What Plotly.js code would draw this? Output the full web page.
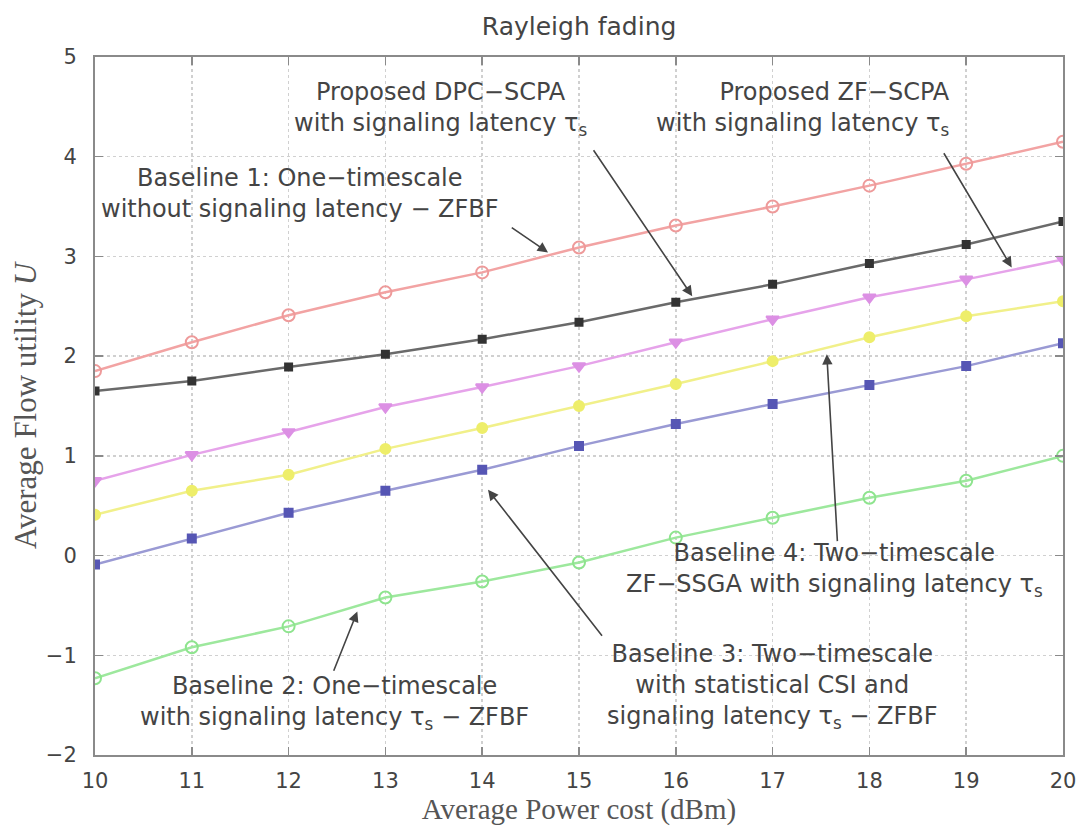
<!DOCTYPE html>
<html>
<head>
<meta charset="utf-8">
<script src="https://cdn.plot.ly/plotly-3.0.1.min.js"></script>
<style>html,body{margin:0;padding:0;background:#fff;}#chart{width:1080px;height:828px;}</style>
</head>
<body>
<div id="chart"></div>
<script>
// Average power cost (dBm)
const powerCost = [10, 11, 12, 13, 14, 15, 16, 17, 18, 19, 20];
// Average flow utility U for each scheme
const baseline1 = [1.85, 2.14, 2.41, 2.64, 2.84, 3.09, 3.31, 3.50, 3.71, 3.93, 4.15];
const proposedDPC = [1.65, 1.75, 1.89, 2.02, 2.17, 2.34, 2.54, 2.72, 2.93, 3.12, 3.35];
const proposedZF = [0.75, 1.01, 1.24, 1.49, 1.69, 1.90, 2.14, 2.37, 2.59, 2.77, 2.97];
const baseline4 = [0.41, 0.65, 0.81, 1.07, 1.28, 1.50, 1.72, 1.95, 2.19, 2.40, 2.55];
const baseline3 = [-0.09, 0.17, 0.43, 0.65, 0.86, 1.10, 1.32, 1.52, 1.71, 1.90, 2.13];
const baseline2 = [-1.23, -0.92, -0.71, -0.42, -0.26, -0.07, 0.18, 0.38, 0.58, 0.75, 1.00];

const xTicks = [10, 11, 12, 13, 14, 15, 16, 17, 18, 19, 20];
const yTicks = [-2, -1, 0, 1, 2, 3, 4, 5];
const yTickText = ['\u22122', '\u22121', '0', '1', '2', '3', '4', '5'];

// label texts, label centres and arrow (tail -> head) in data units
const labels = [
  {text: 'Proposed DPC\u2212SCPA<br>with signaling latency \u03c4<sub>s</sub>', x: 13.57, y: 4.48, anchor: 'center',
   tail: [15.14, 4.08], head: [16.17, 2.60]},
  {text: 'Proposed ZF\u2212SCPA<br>with signaling latency \u03c4<sub>s</sub>', x: 18.85, y: 4.48, anchor: 'right',
   tail: [18.76, 4.05], head: [19.47, 2.89]},
  {text: 'Baseline 1: One\u2212timescale<br>without signaling latency \u2212 ZFBF', x: 12.12, y: 3.63, anchor: 'center',
   tail: [14.29, 3.30], head: [14.68, 3.04]},
  {text: 'Baseline 2: One\u2212timescale<br>with signaling latency \u03c4<sub>s</sub> \u2212 ZFBF', x: 12.47, y: -1.48, anchor: 'center',
   tail: [12.46, -1.17], head: [12.71, -0.56]},
  {text: 'Baseline 3: Two\u2212timescale<br>with statistical CSI and<br>signaling latency \u03c4<sub>s</sub> \u2212 ZFBF', x: 17.00, y: -1.31, anchor: 'center',
   tail: [15.25, -0.82], head: [14.06, 0.66]},
  {text: 'Baseline 4: Two\u2212timescale<br>ZF\u2212SSGA with signaling latency \u03c4<sub>s</sub>', x: 17.64, y: -0.14, anchor: 'center',
   tail: [17.67, 0.13], head: [17.56, 2.02]}
];

function series(y, lineColor, markerSymbol, markerColor, markerSize, name) {
  return {
    x: powerCost, y: y, type: 'scatter', mode: 'lines+markers', name: name,
    line: {color: lineColor, width: 2.5},
    marker: {symbol: markerSymbol, size: markerSize, color: markerColor,
             line: {color: markerColor, width: 2}}
  };
}

const data = [
  series(baseline1, '#f2a3a3', 'circle-open', '#ee9a9a', 12, 'Baseline 1'),
  series(proposedDPC, '#6a6a6a', 'square', '#333333', 7, 'Proposed DPC-SCPA'),
  series(proposedZF, '#e6a3ea', 'triangle-down', '#dc90e4', 11, 'Proposed ZF-SCPA'),
  series(baseline4, '#f1f08a', 'circle', '#eeee6a', 10, 'Baseline 4'),
  series(baseline3, '#9a9ad4', 'square', '#5656b4', 8, 'Baseline 3'),
  series(baseline2, '#9de89d', 'circle-open', '#8ee48e', 12, 'Baseline 2')
];

const textFont = {family: 'DejaVu Sans, sans-serif', size: 24, color: '#444'};
const annotations = [];
labels.forEach(l => {
  annotations.push({
    x: l.x, y: l.y, xref: 'x', yref: 'y', text: l.text, showarrow: false,
    xanchor: l.anchor, yanchor: 'middle', align: l.anchor === 'right' ? 'right' : 'center',
    font: textFont
  });
  annotations.push({
    x: l.head[0], y: l.head[1], ax: l.tail[0], ay: l.tail[1],
    xref: 'x', yref: 'y', axref: 'x', ayref: 'y', text: '', showarrow: true,
    arrowhead: 2, arrowsize: 1.3, arrowwidth: 1.6, arrowcolor: '#444', standoff: 0, startstandoff: 0
  });
});

const axisCommon = {
  showline: true, mirror: 'ticks', linecolor: '#8a8a8a', linewidth: 2,
  ticks: 'inside', ticklen: 8, tickcolor: '#8a8a8a', tickwidth: 1.5,
  showgrid: true, gridcolor: '#d0d0d0', griddash: 'dot', gridwidth: 1.5,
  zeroline: false,
  tickfont: {family: 'DejaVu Sans, sans-serif', size: 21, color: '#444'}
};

const layout = {
  width: 1080, height: 828,
  margin: {l: 95, r: 17, t: 57, b: 73},
  paper_bgcolor: '#fff', plot_bgcolor: '#fff',
  showlegend: false,
  title: {text: 'Rayleigh fading', x: 0.5362, xanchor: 'center', y: 0.968, yanchor: 'middle',
          font: {family: 'DejaVu Sans, sans-serif', size: 25, color: '#444'}},
  xaxis: Object.assign({}, axisCommon, {
    range: [10, 20], tickvals: xTicks, ticktext: xTicks.map(String),
    ticklabelstandoff: 6,
    title: {text: 'Average Power cost (dBm)', standoff: 4,
            font: {family: 'Liberation Serif, serif', size: 29, color: '#555'}}
  }),
  yaxis: Object.assign({}, axisCommon, {
    range: [-2, 5], tickvals: yTicks, ticktext: yTickText,
    ticklabelstandoff: 12,
    title: {text: 'Average Flow utility <i>U</i>', standoff: 0,
            font: {family: 'Liberation Serif, serif', size: 31, color: '#555'}}
  }),
  annotations: annotations
};

Plotly.newPlot('chart', data, layout, {displayModeBar: false, staticPlot: true});
</script>
</body>
</html>
